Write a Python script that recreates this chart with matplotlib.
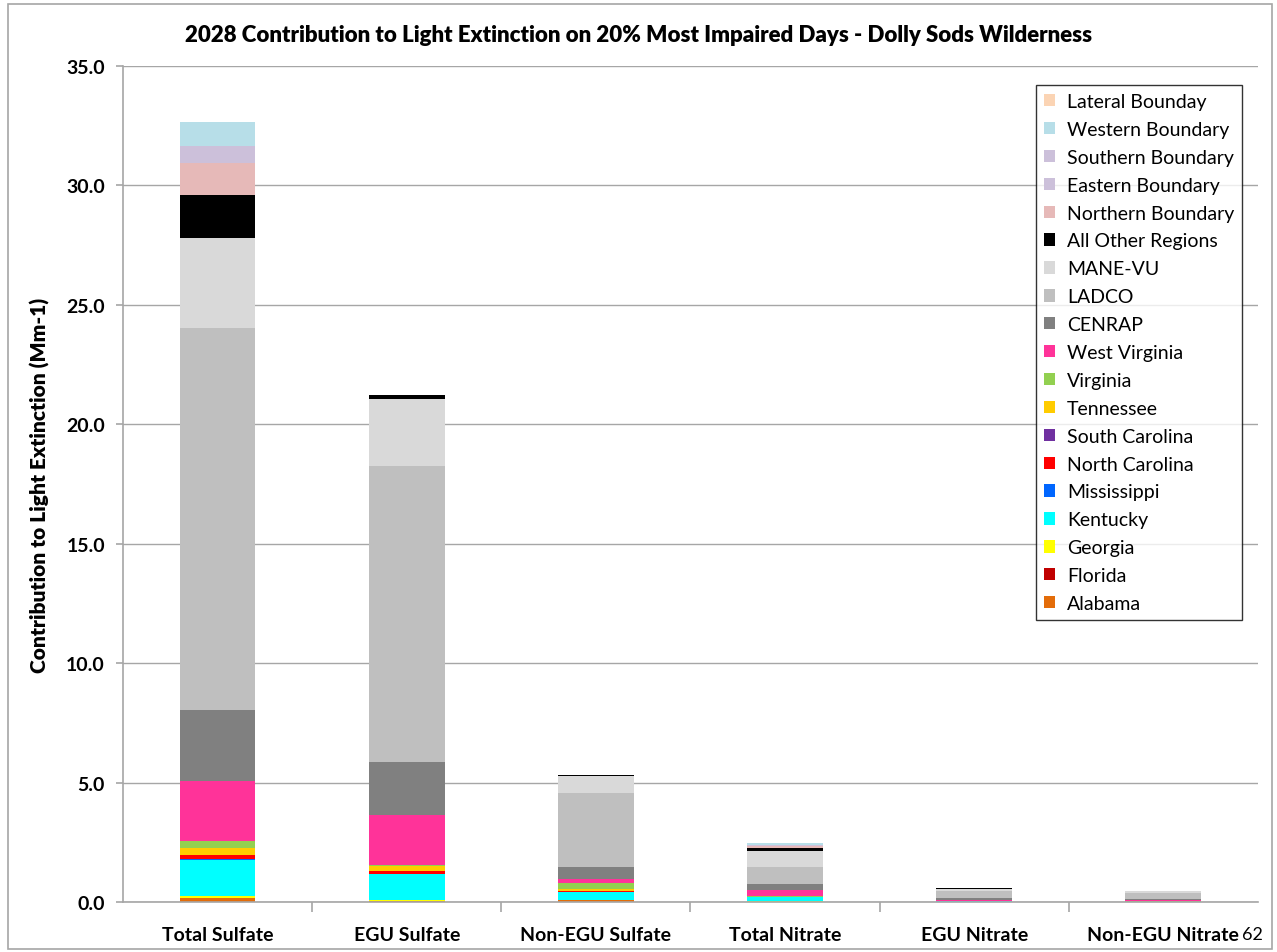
import numpy as np
import matplotlib.pyplot as plt
from matplotlib.patches import Rectangle

plt.rcParams['font.family'] = ['Lato', 'DejaVu Sans']

categories = ["Total Sulfate", "EGU Sulfate", "Non-EGU Sulfate",
              "Total Nitrate", "EGU Nitrate", "Non-EGU Nitrate"]

# contributions (Mm-1), stacked bottom to top
alabama        = [0.15, 0.03, 0.07, 0.01, 0.00, 0.00]
florida        = [0.02, 0.01, 0.01, 0.00, 0.00, 0.00]
georgia        = [0.10, 0.05, 0.02, 0.04, 0.00, 0.00]
kentucky       = [1.49, 1.07, 0.32, 0.14, 0.02, 0.01]
mississippi    = [0.02, 0.01, 0.01, 0.00, 0.00, 0.00]
north_carolina = [0.17, 0.11, 0.02, 0.01, 0.00, 0.00]
south_carolina = [0.01, 0.01, 0.00, 0.00, 0.00, 0.00]
tennessee      = [0.29, 0.23, 0.08, 0.02, 0.00, 0.00]
virginia       = [0.31, 0.04, 0.26, 0.02, 0.01, 0.01]
west_virginia  = [2.50, 2.09, 0.17, 0.27, 0.07, 0.05]
cenrap         = [2.96, 2.22, 0.49, 0.25, 0.07, 0.05]
ladco          = [16.0, 12.4, 3.10, 0.69, 0.28, 0.25]
mane_vu        = [3.77, 2.80, 0.74, 0.67, 0.08, 0.07]
all_other      = [1.80, 0.17, 0.04, 0.14, 0.04, 0.03]
northern       = [1.34, 0.00, 0.00, 0.07, 0.00, 0.00]
eastern        = [0.35, 0.00, 0.00, 0.04, 0.00, 0.00]
southern       = [0.36, 0.00, 0.00, 0.03, 0.00, 0.00]
western        = [1.00, 0.00, 0.00, 0.07, 0.00, 0.00]
lateral        = [0.00, 0.00, 0.00, 0.00, 0.00, 0.00]

series = [
    ("Alabama", alabama, "#E36C09"),
    ("Florida", florida, "#C00000"),
    ("Georgia", georgia, "#FFFF00"),
    ("Kentucky", kentucky, "#00FFFF"),
    ("Mississippi", mississippi, "#0066FF"),
    ("North Carolina", north_carolina, "#FF0000"),
    ("South Carolina", south_carolina, "#7030A0"),
    ("Tennessee", tennessee, "#FFCC00"),
    ("Virginia", virginia, "#92D050"),
    ("West Virginia", west_virginia, "#FF3399"),
    ("CENRAP", cenrap, "#808080"),
    ("LADCO", ladco, "#BFBFBF"),
    ("MANE-VU", mane_vu, "#D9D9D9"),
    ("All Other Regions", all_other, "#000000"),
    ("Northern Boundary", northern, "#E6B9B8"),
    ("Eastern Boundary", eastern, "#CCC0DA"),
    ("Southern Boundary", southern, "#CCC0DA"),
    ("Western Boundary", western, "#B7DEE8"),
    ("Lateral Bounday", lateral, "#FBD4B4"),
]

fig = plt.figure(figsize=(12.77, 9.53), dpi=100)
ax = fig.add_axes([0.0963, 0.0525, 0.8887, 0.8772])

x = np.arange(len(categories))
bottom = np.zeros(len(categories))
for name, vals, col in series:
    vals = np.array(vals)
    ax.bar(x, vals, bottom=bottom, width=0.4, color=col, label=name,
           edgecolor='none')
    bottom += vals

ax.set_xlim(-0.5, len(categories) - 0.5)
ax.set_ylim(0, 35)
ax.set_yticks(np.arange(0, 35.1, 5))
ax.set_yticklabels(["%.1f" % v for v in np.arange(0, 35.1, 5)],
                   fontsize=14, fontweight='bold')
ax.set_xticks(x)
ax.set_xticklabels(categories, fontsize=14, fontweight='bold')
ax.tick_params(axis='x', length=0, pad=17)
ax.set_xticks(np.arange(0.5, len(categories) - 0.5, 1), minor=True)
ax.tick_params(axis='x', which='minor', length=7, color='#A6A6A6', width=1.2)
ax.tick_params(axis='y', length=5, color='#A6A6A6', width=1.2, pad=8)

ax.yaxis.grid(True, color='#A6A6A6', linewidth=1.0)
ax.set_axisbelow(True)
for s in ['top', 'right']:
    ax.spines[s].set_visible(False)
for s in ['left', 'bottom']:
    ax.spines[s].set_color('#A6A6A6')
    ax.spines[s].set_linewidth(1.2)

ax.set_ylabel("Contribution to Light Extinction (Mm-1)", fontsize=15,
              fontweight='heavy', labelpad=12)
ax.set_title("2028 Contribution to Light Extinction on 20% Most Impaired Days - Dolly Sods Wilderness",
             fontsize=16, fontweight='heavy', pad=18, x=0.454)

handles, labels = ax.get_legend_handles_labels()
leg = ax.legend(handles[::-1], labels[::-1], loc='upper right',
                bbox_to_anchor=(0.986, 0.977), borderaxespad=0, fontsize=14,
                frameon=True, fancybox=False, edgecolor='black',
                handlelength=0.6, handleheight=0.6, handletextpad=0.6,
                labelspacing=0.56, borderpad=0.4)
leg.get_frame().set_linewidth(1.0)

fig.patches.append(Rectangle((0.006, 0.003), 0.99, 0.992, transform=fig.transFigure,
                             fill=False, edgecolor='#A6A6A6', linewidth=1.2))
fig.text(0.981, 0.014, "62", fontsize=13, ha='center')

fig.savefig("out.png", dpi=100)
